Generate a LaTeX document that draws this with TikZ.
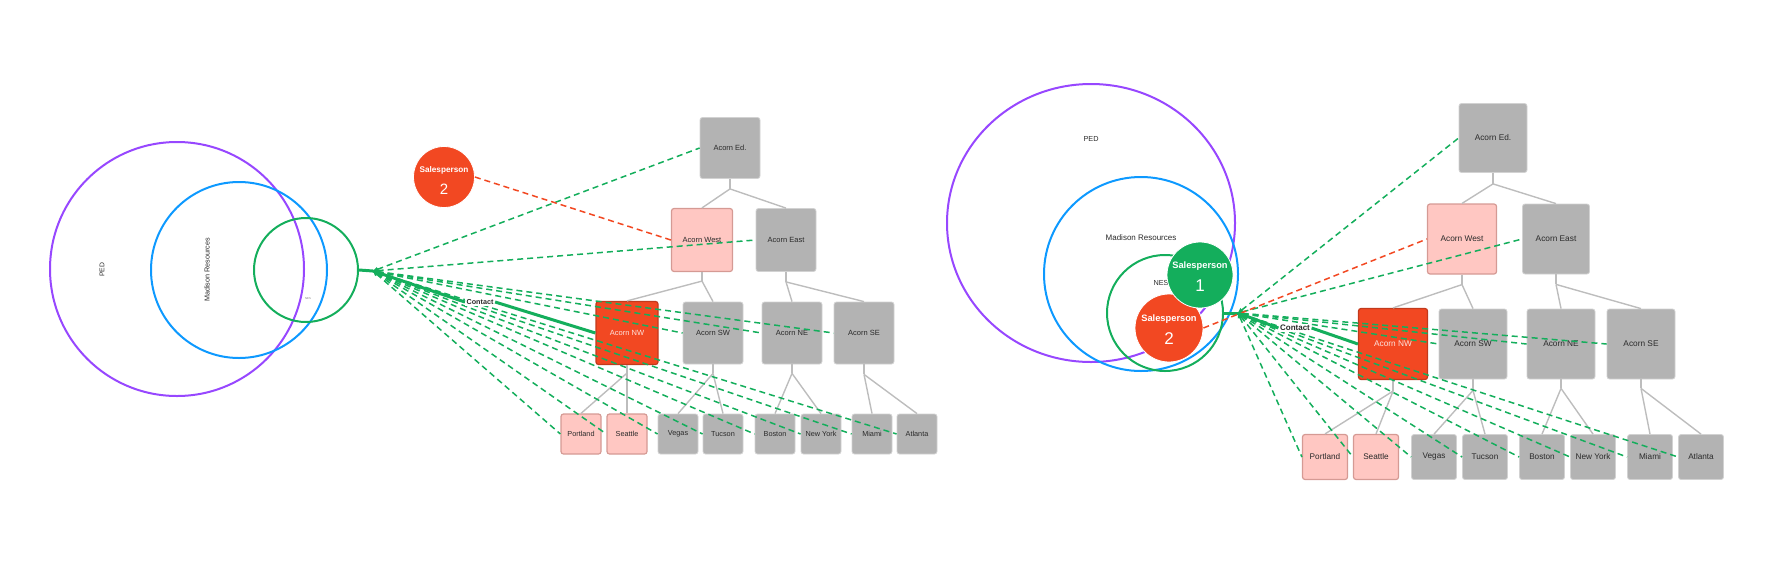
\documentclass[tikz,border=0pt]{standalone}
\usepackage{fontspec}
\setmainfont{Liberation Sans}
\usetikzlibrary{arrows.meta,shapes.geometric}
\newcommand{\myfs}[1]{\fontsize{#1}{#1}\selectfont}
\definecolor{cpurple}{HTML}{9747FF}
\definecolor{cblue}{HTML}{0D99FF}
\definecolor{cgreen}{HTML}{14AE5C}
\definecolor{cred}{HTML}{F24822}
\definecolor{credb}{HTML}{C23A1C}
\definecolor{cpink}{HTML}{FFC7C2}
\definecolor{cpinkb}{HTML}{D59A94}
\definecolor{cgrey}{HTML}{B3B3B3}
\definecolor{cgreyb}{HTML}{D2D2D2}
\definecolor{cline}{HTML}{BDBDBD}
\definecolor{ctext}{HTML}{2A2A2A}
\begin{document}
\begin{tikzpicture}[x=1pt,y=-1pt,
  ring/.style={circle, draw, line width=2pt, inner sep=0pt},
  ringE/.style={ellipse, draw, line width=2pt, inner sep=0pt},
  lab/.style={text=ctext, inner sep=0pt},
  gbox/.style={rectangle, rounded corners=2.5pt, fill=cgrey, draw=cgreyb, line width=0.8pt, inner sep=0pt, text=ctext},
  pbox/.style={gbox, fill=cpink, draw=cpinkb, line width=1.2pt},
  rbox/.style={gbox, fill=cred, draw=credb, line width=1.2pt, text=white!85!cred},
  tline/.style={draw=cline, line width=1.4pt},
  gdash/.style={draw=cgreen, line width=1.5pt, dash pattern=on 6pt off 4pt, arrows={Triangle[length=5pt,width=4.5pt]-}},
  rdash/.style={draw=cred, line width=1.5pt, dash pattern=on 6pt off 4pt},
  thickg/.style={draw=cgreen, line width=3pt},
  contact/.style={text=ctext, fill=white, inner sep=1.5pt},
  spred/.style={circle, fill=cred, draw=white, line width=0.8pt, inner sep=0pt},
  spgreen/.style={circle, fill=cgreen, draw=white, line width=0.8pt, inner sep=0pt},
  sptxt/.style={text=white, inner sep=0pt}
]
\useasboundingbox (0,0) rectangle (1768,587);

% ================= LEFT PANEL =================
\node[ring, draw=cpurple, minimum size=254] (pedL) at (177,269) {};
\node[ring, draw=cblue, minimum size=176] (mrL) at (239,270) {};
\node[ring, draw=cgreen, minimum size=104] (nesL) at (306,270) {};
\node[lab, rotate=90, font=\myfs{6.8}] (pedLt) at (102,270) {PED};
\node[lab, rotate=90, font=\myfs{7.2}] (mrLt) at (207,270) {Madison Resources};
\node[lab, text=gray, font=\myfs{2.8}] (nesLt) at (308,299) {NES};

\coordinate (hubL) at (373,271);

% salesperson 2
\node[spred, minimum size=61] (spL) at (444,177) {};
\node[sptxt, font=\myfs{8.2}\bfseries] (spLt) at (444,170) {Salesperson};
\node[sptxt, font=\myfs{15}] (spLn) at (444,189) {2};

% tree
\node[gbox, minimum width=60, minimum height=61, font=\myfs{7.5}] (edL) at (730,148) {Acorn Ed.};
\node[pbox, minimum width=61, minimum height=63, font=\myfs{7.5}] (westL) at (702,240) {Acorn West};
\node[gbox, minimum width=60, minimum height=63, font=\myfs{7.5}] (eastL) at (786,240) {Acorn East};
\node[rbox, minimum width=62, minimum height=63, font=\myfs{7.5}] (nwL) at (627,333) {Acorn NW};
\node[gbox, minimum width=60, minimum height=62, font=\myfs{7.5}] (swL) at (713,333) {Acorn SW};
\node[gbox, minimum width=60, minimum height=62, font=\myfs{7.5}] (neL) at (792,333) {Acorn NE};
\node[gbox, minimum width=60, minimum height=62, font=\myfs{7.5}] (seL) at (864,333) {Acorn SE};
\node[pbox, minimum width=40, minimum height=40, font=\myfs{7.3}] (portL) at (581,434) {Portland};
\node[pbox, minimum width=40, minimum height=40, font=\myfs{7.3}] (seaL) at (627,434) {Seattle};
\node[gbox, minimum width=40, minimum height=40, font=\myfs{7.3}] (vegL) at (678,434) {Vegas};
\node[gbox, minimum width=40, minimum height=40, font=\myfs{7.3}] (tucL) at (723,434) {Tucson};
\node[gbox, minimum width=40, minimum height=40, font=\myfs{7.3}] (bosL) at (775,434) {Boston};
\node[gbox, minimum width=40, minimum height=40, font=\myfs{7.3}] (nyL) at (821,434) {New York};
\node[gbox, minimum width=40, minimum height=40, font=\myfs{7.3}] (miaL) at (872,434) {Miami};
\node[gbox, minimum width=40, minimum height=40, font=\myfs{7.3}] (atlL) at (917,434) {Atlanta};

% tree connectors
\draw[tline] (edL.south) -- ++(0,10) coordinate (jEdL);
\draw[tline] (jEdL) -- (westL.north); \draw[tline] (jEdL) -- (eastL.north);
\draw[tline] (westL.south) -- ++(0,9) coordinate (jWL);
\draw[tline] (jWL) -- (nwL.north); \draw[tline] (jWL) -- (swL.north);
\draw[tline] (eastL.south) -- ++(0,10) coordinate (jEL);
\draw[tline] (jEL) -- (neL.north); \draw[tline] (jEL) -- (seL.north);
\draw[tline] (nwL.south) -- ++(0,8) coordinate (jNWL);
\draw[tline] (jNWL) -- (portL.north); \draw[tline] (jNWL) -- (seaL.north);
\draw[tline] (swL.south) -- ++(0,9) coordinate (jSWL);
\draw[tline] (jSWL) -- (vegL.north); \draw[tline] (jSWL) -- (tucL.north);
\draw[tline] (neL.south) -- ++(0,9) coordinate (jNEL);
\draw[tline] (jNEL) -- (bosL.north); \draw[tline] (jNEL) -- (nyL.north);
\draw[tline] (seL.south) -- ++(0,10) coordinate (jSEL);
\draw[tline] (jSEL) -- (miaL.north); \draw[tline] (jSEL) -- (atlL.north);

% connectors from hub
\draw[thickg] (nesL.east) -- (hubL);
\foreach \t in {edL,eastL,swL,neL,seL}{\draw[gdash] (hubL) -- (\t.west);}
\foreach \t in {portL,seaL,vegL,tucL,bosL,nyL,miaL,atlL}{\draw[gdash] (hubL) -- (\t.west);}
\draw[rdash] (spL.east) -- (westL.west);
\node[contact, font=\myfs{7.2}\bfseries] (contactL) at (480,302) {Contact};
\draw[thickg] (hubL) -- (contactL.west);
\draw[thickg] (contactL.east) -- (nwL.west);

% ================= RIGHT PANEL =================
\node[ringE, draw=cpurple, minimum width=288, minimum height=278] (pedR) at (1091,223) {};
\node[ring, draw=cblue, minimum size=194] (mrR) at (1141,274) {};
\node[ring, draw=cgreen, minimum size=116] (nesR) at (1165,313) {};
\node[lab, font=\myfs{7.3}] (pedRt) at (1091,139) {PED};
\node[lab, font=\myfs{8}] (mrRt) at (1141,238) {Madison Resources};
\node[lab, font=\myfs{7.3}] (nesRt) at (1161,283) {NES};

\coordinate (hubR) at (1238,313);

\node[spred, minimum size=68] (sp2R) at (1169,328) {};
\node[sptxt, font=\myfs{9.3}\bfseries] (sp2Rt) at (1169,319) {Salesperson};
\node[sptxt, font=\myfs{17}] (sp2Rn) at (1169,339) {2};
\node[spgreen, minimum size=66] (sp1R) at (1200,275) {};
\node[sptxt, font=\myfs{9.3}\bfseries] (sp1Rt) at (1200,266) {Salesperson};
\node[sptxt, font=\myfs{17}] (sp1Rn) at (1200,286) {1};

\node[gbox, minimum width=68, minimum height=69, font=\myfs{8.3}] (edR) at (1493,138) {Acorn Ed.};
\node[pbox, minimum width=69, minimum height=70, font=\myfs{8.3}] (westR) at (1462,239) {Acorn West};
\node[gbox, minimum width=67, minimum height=70, font=\myfs{8.3}] (eastR) at (1556,239) {Acorn East};
\node[rbox, minimum width=69, minimum height=71, font=\myfs{8.3}] (nwR) at (1393,344) {Acorn NW};
\node[gbox, minimum width=68, minimum height=70, font=\myfs{8.3}] (swR) at (1473,344) {Acorn SW};
\node[gbox, minimum width=68, minimum height=70, font=\myfs{8.3}] (neR) at (1561,344) {Acorn NE};
\node[gbox, minimum width=68, minimum height=70, font=\myfs{8.3}] (seR) at (1641,344) {Acorn SE};
\node[pbox, minimum width=45, minimum height=45, font=\myfs{8.2}] (portR) at (1325,457) {Portland};
\node[pbox, minimum width=45, minimum height=45, font=\myfs{8.2}] (seaR) at (1376,457) {Seattle};
\node[gbox, minimum width=45, minimum height=45, font=\myfs{8.2}] (vegR) at (1434,457) {Vegas};
\node[gbox, minimum width=45, minimum height=45, font=\myfs{8.2}] (tucR) at (1485,457) {Tucson};
\node[gbox, minimum width=45, minimum height=45, font=\myfs{8.2}] (bosR) at (1542,457) {Boston};
\node[gbox, minimum width=45, minimum height=45, font=\myfs{8.2}] (nyR) at (1593,457) {New York};
\node[gbox, minimum width=45, minimum height=45, font=\myfs{8.2}] (miaR) at (1650,457) {Miami};
\node[gbox, minimum width=45, minimum height=45, font=\myfs{8.2}] (atlR) at (1701,457) {Atlanta};

\draw[tline] (edR.south) -- ++(0,11) coordinate (jEdR);
\draw[tline] (jEdR) -- (westR.north); \draw[tline] (jEdR) -- (eastR.north);
\draw[tline] (westR.south) -- ++(0,10) coordinate (jWR);
\draw[tline] (jWR) -- (nwR.north); \draw[tline] (jWR) -- (swR.north);
\draw[tline] (eastR.south) -- ++(0,10) coordinate (jER);
\draw[tline] (jER) -- (neR.north); \draw[tline] (jER) -- (seR.north);
\draw[tline] (nwR.south) -- ++(0,11) coordinate (jNWR);
\draw[tline] (jNWR) -- (portR.north); \draw[tline] (jNWR) -- (seaR.north);
\draw[tline] (swR.south) -- ++(0,11) coordinate (jSWR);
\draw[tline] (jSWR) -- (vegR.north); \draw[tline] (jSWR) -- (tucR.north);
\draw[tline] (neR.south) -- ++(0,9) coordinate (jNER);
\draw[tline] (jNER) -- (bosR.north); \draw[tline] (jNER) -- (nyR.north);
\draw[tline] (seR.south) -- ++(0,9) coordinate (jSER);
\draw[tline] (jSER) -- (miaR.north); \draw[tline] (jSER) -- (atlR.north);

\draw[thickg] (nesR.east) -- (hubR);
\foreach \t in {edR,eastR,swR,neR,seR}{\draw[gdash] (hubR) -- (\t.west);}
\foreach \t in {portR,seaR,vegR,tucR,bosR,nyR,miaR,atlR}{\draw[gdash] (hubR) -- (\t.west);}
\draw[rdash] (sp2R.east) -- (westR.west);
\node[contact, font=\myfs{8}\bfseries] (contactR) at (1295,328) {Contact};
\draw[thickg] (hubR) -- (contactR.west);
\draw[thickg] (contactR.east) -- (nwR.west);
\end{tikzpicture}
\end{document}
